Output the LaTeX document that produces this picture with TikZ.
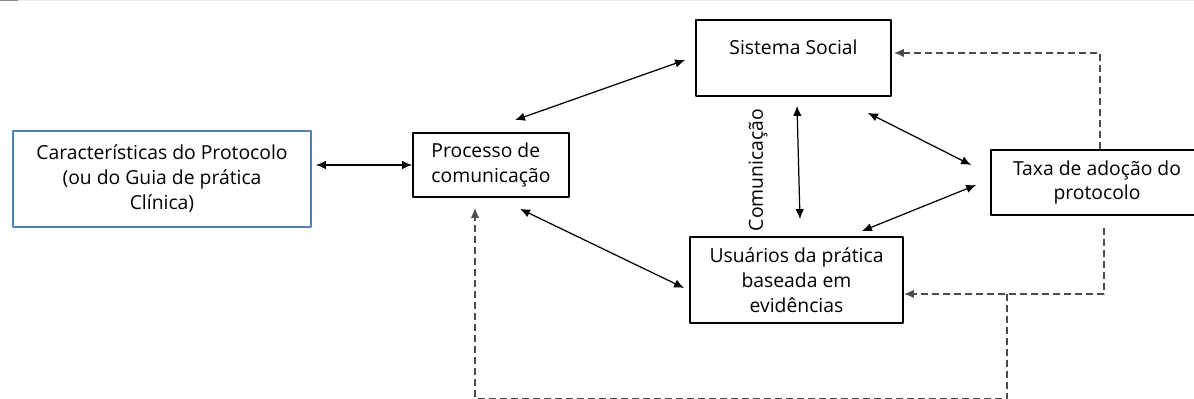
\documentclass[tikz,border=0pt]{standalone}
\usepackage{fontspec}
\setmainfont{Open Sans}
\usetikzlibrary{arrows.meta}
\definecolor{protblue}{RGB}{79,129,189}
\begin{document}
\begin{tikzpicture}[>={Latex[length=2mm,width=1.7mm]},line join=round,
	font=\fontsize{11pt}{14.2pt}\selectfont,
	box/.style={draw,line width=1pt,inner sep=0pt,align=center},
	link/.style={<->,line width=0.7pt},
	dashline/.style={line width=0.9pt,color=black!70,dash pattern=on 0.14cm off 0.08cm}]
			\useasboundingbox (0,0) rectangle (23.88,7.98);
			\draw[black!8,line width=0.6pt] (0,7.97)--(23.88,7.97);
			\draw[black!45,line width=0.8pt] (0,7.97)--(0.36,7.97);
			\node[box,draw=protblue,minimum width=5.96cm,minimum height=1.92cm] (carac) at (3.24,4.40) {Características do Protocolo\\(ou do Guia de prática\\Clínica)};
			\node[box,align=left,minimum width=3.12cm,minimum height=1.28cm] (proc) at (9.82,4.68) {Processo de\\comunicação};
			\node[box,minimum width=3.9cm,minimum height=1.52cm,text depth=0.42cm] (social) at (15.87,6.82) {Sistema Social};
			\node[box,minimum width=4.26cm,minimum height=1.72cm] (usu) at (15.93,2.38) {Usuários da prática\\baseada em\\evidências};
			\node[box,minimum width=4.24cm,minimum height=1.30cm] (taxa) at (21.94,4.33) {Taxa de adoção do\\protocolo};
			\node[rotate=90] (comlbl) at (15.16,4.58) {Comunicação};
			% setas
			\draw[link,shorten <=0.08cm] (carac.east |- proc.west)--(proc.west);
			\draw[link] ([xshift=0.48cm,yshift=0.24cm]proc.north)--([xshift=-0.2cm,yshift=-0.04cm]social.west);
			\draw[link] ([xshift=0.58cm,yshift=-0.22cm]proc.south)--([xshift=-0.1cm,yshift=-0.16cm]usu.west);
			\draw[link] ([xshift=0.07cm,yshift=-0.18cm]social.south)--([xshift=0.07cm,yshift=0.34cm]usu.north);
			\draw[link] ([xshift=-0.48cm,yshift=-0.32cm]social.south east)--([xshift=-0.38cm,yshift=0.35cm]taxa.west);
			\draw[link] ([xshift=-0.28cm,yshift=-0.05cm]taxa.west)--([xshift=-0.84cm,yshift=0.1cm]usu.north east);
			% retorno tracejado
			\draw[dashline,->] ([xshift=0.06cm]taxa.north) |- ([xshift=0.04cm,yshift=0.1cm]social.east);
			\draw[dashline,->] ([xshift=0.14cm,yshift=-0.24cm]taxa.south) |- ([yshift=-0.28cm]usu.east);
			\coordinate (jn) at (20.14,2.10);
			\draw[dashline,->] (jn)--++(0,-2.09) -| ([xshift=-0.32cm,yshift=-0.2cm]proc.south);
	\end{tikzpicture}
\end{document}
